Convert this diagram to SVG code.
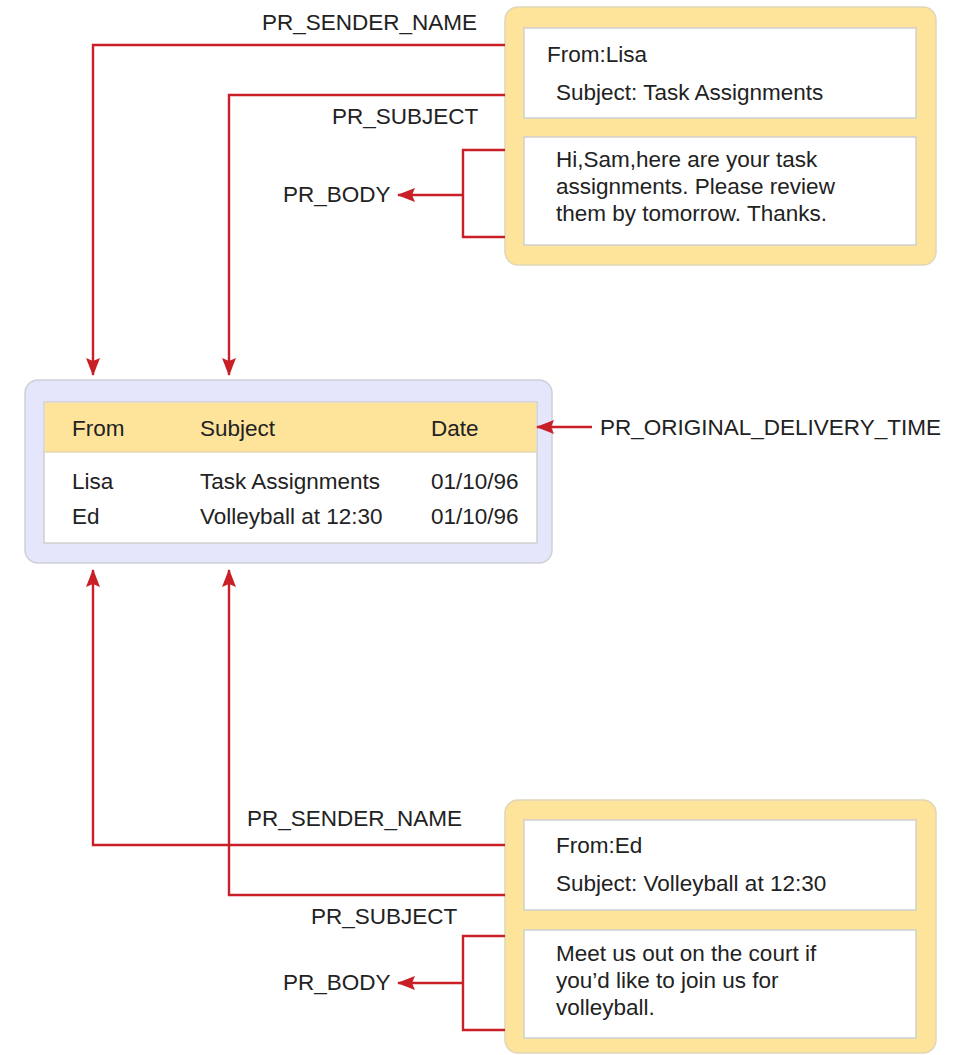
<svg xmlns="http://www.w3.org/2000/svg" width="955" height="1055" viewBox="0 0 955 1055">
<defs>
<marker id="ahb" markerWidth="18" markerHeight="14" refX="17" refY="7" orient="auto" markerUnits="userSpaceOnUse" viewBox="0 0 18 14">
<path d="M0,0 L18,7 L0,14 L3,7 Z" fill="#c91f26"/>
</marker>
<style>
text{font-family:"Liberation Sans",Arial,sans-serif;font-size:22.5px;fill:#222;}
.yel{fill:#fde49a;stroke:#e0d6b8;stroke-width:1.5;}
.wht{fill:#fff;stroke:#cfcfcf;stroke-width:1.5;}
.lav{fill:#e5e5fb;stroke:#cfcfd8;stroke-width:1.5;}
.hdr{fill:#fde49a;stroke:none;}
.con{fill:none;stroke:#c91f26;stroke-width:2.4;}
</style>
</defs>
<g id="message-lisa">
<rect class="yel" x="505" y="7" width="431" height="258" rx="13"/>
<rect class="wht" x="524" y="28" width="392" height="90"/>
<rect class="wht" x="524" y="137" width="392" height="108"/>
<text x="547" y="62">From:Lisa</text>
<text x="556" y="100">Subject: Task Assignments</text>
<text x="556" y="167">Hi,Sam,here are your task</text>
<text x="556" y="194">assignments. Please review</text>
<text x="556" y="221">them by tomorrow. Thanks.</text>
</g>
<g id="message-table">
<rect class="lav" x="25" y="380" width="527" height="183" rx="13"/>
<rect class="wht" x="44" y="402" width="493" height="141"/>
<rect class="hdr" x="44.8" y="402.8" width="491.4" height="49.5"/>
<line x1="44" y1="452" x2="537" y2="452" stroke="#d8d0b0" stroke-width="1"/>
<text x="72" y="436">From</text>
<text x="200" y="436">Subject</text>
<text x="431" y="436">Date</text>
<text x="72" y="489">Lisa</text>
<text x="200" y="489">Task Assignments</text>
<text x="431" y="489">01/10/96</text>
<text x="72" y="524">Ed</text>
<text x="200" y="524">Volleyball at 12:30</text>
<text x="431" y="524">01/10/96</text>
</g>
<g id="message-ed">
<rect class="yel" x="505" y="800" width="431" height="253" rx="13"/>
<rect class="wht" x="524" y="820" width="392" height="90"/>
<rect class="wht" x="524" y="930" width="392" height="108"/>
<text x="556" y="853">From:Ed</text>
<text x="556" y="891">Subject: Volleyball at 12:30</text>
<text x="556" y="961">Meet us out on the court if</text>
<text x="556" y="988">you’d like to join us for</text>
<text x="556" y="1015">volleyball.</text>
</g>
<g id="connectors">
<polyline class="con" points="505,45 93,45 93,375" marker-end="url(#ahb)"/>
<polyline class="con" points="505,95 229,95 229,375" marker-end="url(#ahb)"/>
<polyline class="con" points="505,150 463,150 463,237 505,237"/>
<line class="con" x1="463" y1="195" x2="398" y2="195" marker-end="url(#ahb)"/>
<line class="con" x1="592" y1="427" x2="537" y2="427" marker-end="url(#ahb)"/>
<polyline class="con" points="505,845 93,845 93,570" marker-end="url(#ahb)"/>
<polyline class="con" points="505,895 229,895 229,570" marker-end="url(#ahb)"/>
<polyline class="con" points="505,936 463,936 463,1030 505,1030"/>
<line class="con" x1="463" y1="983" x2="398" y2="983" marker-end="url(#ahb)"/>
</g>
<g id="labels">
<text x="262" y="30">PR_SENDER_NAME</text>
<text x="332" y="124">PR_SUBJECT</text>
<text x="283" y="202">PR_BODY</text>
<text x="600" y="435">PR_ORIGINAL_DELIVERY_TIME</text>
<text x="247" y="826">PR_SENDER_NAME</text>
<text x="311" y="924">PR_SUBJECT</text>
<text x="283" y="990">PR_BODY</text>
</g>
</svg>
